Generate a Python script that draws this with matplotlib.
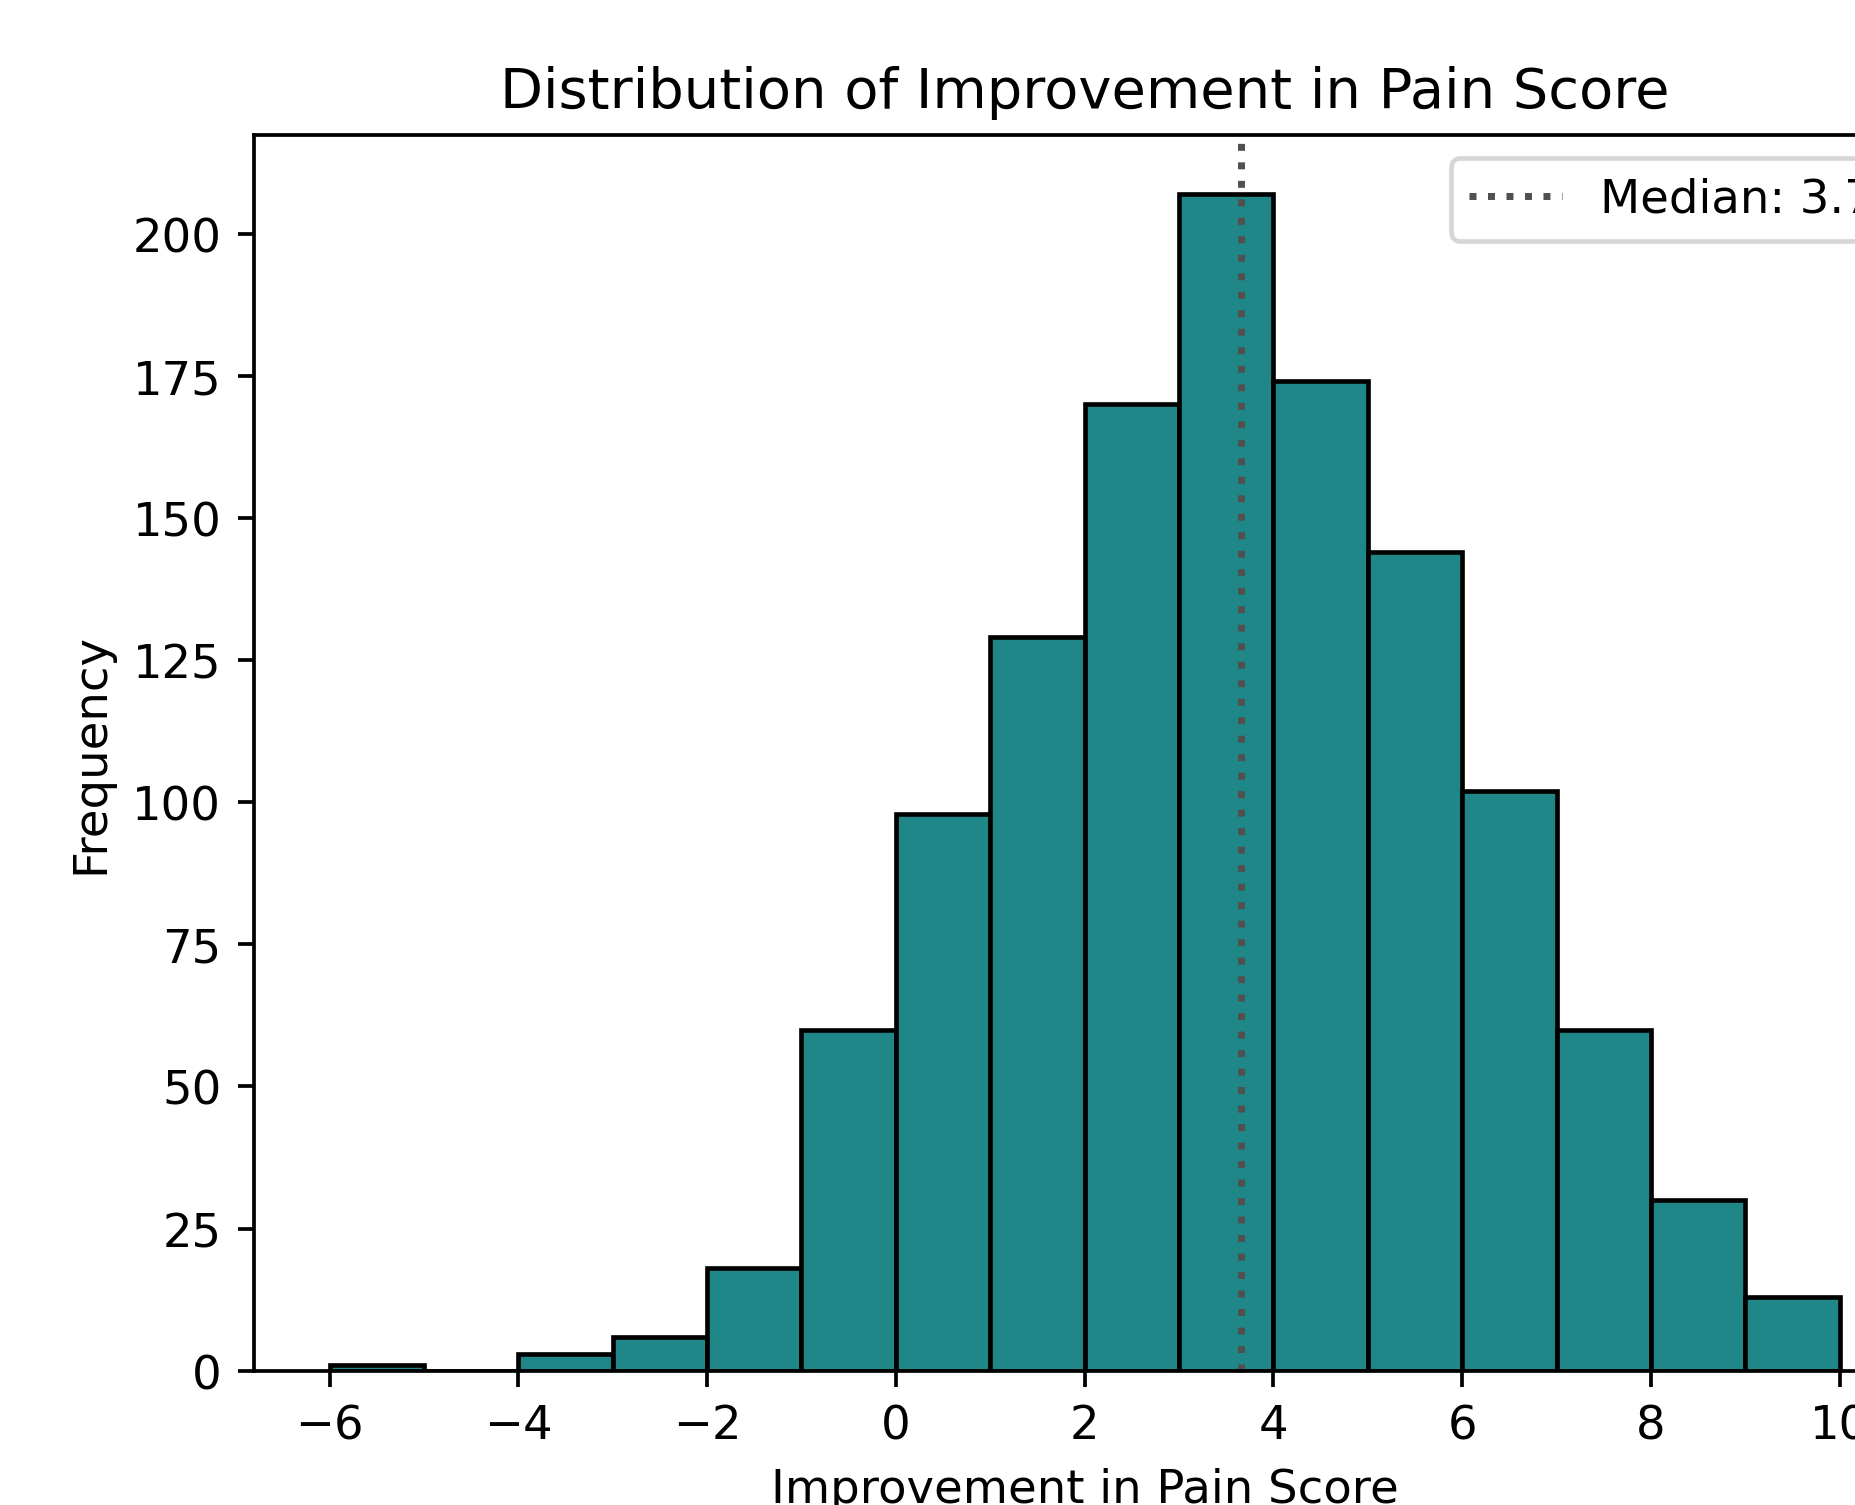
import numpy as np
import matplotlib
matplotlib.use('Agg')
import matplotlib.pyplot as plt

# histogram bins (width 1) and counts
bin_edges = [-6, -5, -4, -3, -2, -1, 0, 1, 2, 3, 4, 5, 6, 7, 8, 9, 10]
counts = [1, 0, 3, 6, 18, 60, 98, 129, 170, 207, 174, 144, 102, 60, 30, 13]
median_value = 3.66

bin_centers = [(a + b) / 2 for a, b in zip(bin_edges[:-1], bin_edges[1:])]

# figure is a crop of a larger plot, so the axes run past the right edge
fig = plt.figure(figsize=(1855 / 335, 1506 / 335), dpi=335)
ax = fig.add_axes([0.13693, 0.08918, 0.8956, 0.8205])

ax.hist(bin_centers, bins=bin_edges, weights=counts,
        color='#1f8787', edgecolor='black', linewidth=1)
ax.axvline(median_value, color='#505050', linestyle=':', linewidth=1.5,
           label=f'Median: {median_value:.1f}')

ax.set_title('Distribution of Improvement in Pain Score')
ax.set_xlabel('Improvement in Pain Score')
ax.set_ylabel('Frequency')
ax.legend(loc='upper right')

fig.savefig('out.png', dpi=335)
